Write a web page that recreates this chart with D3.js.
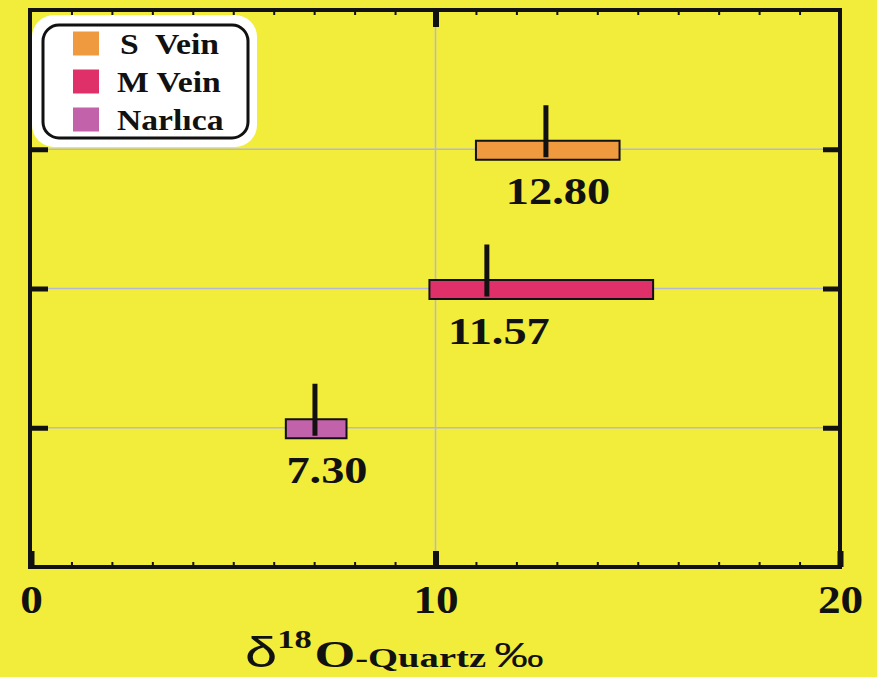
<!DOCTYPE html>
<html><head><meta charset="utf-8">
<script src="https://cdn.jsdelivr.net/npm/d3@7"></script>
<style>
html,body{margin:0;padding:0;background:#f2ec3a;}
svg{display:block;}
</style></head>
<body>
<svg id="chart" width="877" height="677"></svg>
<script>
// ---- data ----
const categories = ["S Vein", "M Vein", "Narlıca"];
const legendLabels = ["S  Vein", "M Vein", "Narlıca"];
const rangeLow = [11.0, 9.85, 6.3];
const rangeHigh = [14.55, 15.38, 7.8];
const markerValues = [12.73, 11.27, 7.02];
const valueLabels = ["12.80", "11.57", "7.30"];
const colors = ["#ef9a3e", "#e0306a", "#c262aa"];
const majorTicks = [0, 10, 20];
const minorTicks = d3.range(1, 20).filter(d => d !== 10);

// ---- layout ----
const svg = d3.select("#chart");
const L = 31, R = 840, T = 10, B = 567;
const x = d3.scaleLinear().domain([0, 20]).range([L, R]);
const y = d3.scalePoint().domain(categories).range([T, B]).padding(1);
const serif = "'Liberation Serif','Times New Roman',serif";
const sans = "'Liberation Sans','DejaVu Sans',sans-serif";
const SX = 1.16;

svg.append("rect").attr("width", 877).attr("height", 677).attr("fill", "#f2ec3a");

// gridlines
const grid = svg.append("g").attr("stroke", "#b3b7dc").attr("stroke-width", 1.5);
grid.selectAll("line.h").data(categories).join("line")
  .attr("x1", L).attr("x2", R).attr("y1", d => y(d)).attr("y2", d => y(d));
grid.append("line").attr("x1", x(10)).attr("x2", x(10)).attr("y1", T).attr("y2", B);

// bars
const rows = categories.map((c, i) => ({c, lo: rangeLow[i], hi: rangeHigh[i], m: markerValues[i], lab: valueLabels[i], col: colors[i]}));
const barH = 19;
svg.append("g").selectAll("rect").data(rows).join("rect")
  .attr("x", d => x(d.lo)).attr("width", d => x(d.hi) - x(d.lo))
  .attr("y", d => y(d.c) - barH / 2 + 1).attr("height", barH)
  .attr("fill", d => d.col).attr("stroke", "#111").attr("stroke-width", 2);

// marker lines
svg.append("g").selectAll("line").data(rows).join("line")
  .attr("x1", d => x(d.m)).attr("x2", d => x(d.m))
  .attr("y1", d => y(d.c) - 44).attr("y2", d => y(d.c) + 8)
  .attr("stroke", "#111").attr("stroke-width", 5);

// value labels
svg.append("g").selectAll("text").data(rows).join("text")
  .attr("transform", d => `translate(${x(d.m) + 12},${y(d.c) + 55}) scale(1.22,1)`)
  .attr("text-anchor", "middle")
  .attr("font-family", serif).attr("font-weight", "bold").attr("font-size", 38)
  .attr("fill", "#111").text(d => d.lab);

// axes ticks (bottom & top)
const minorB = d3.axisBottom(x).tickValues(minorTicks).tickSize(-5).tickFormat("");
const minorT = d3.axisTop(x).tickValues(minorTicks).tickSize(-5).tickFormat("");
const majorB = d3.axisBottom(x).tickValues(majorTicks).tickSize(-16).tickFormat(d3.format("d"));
const majorT = d3.axisTop(x).tickValues([10]).tickSize(-17).tickFormat("");
function styleAxis(g, w) {
  g.select(".domain").remove();
  g.selectAll(".tick line").attr("stroke", "#111").attr("stroke-width", w);
}
svg.append("g").attr("transform", `translate(0,${B})`).call(minorB).call(g => styleAxis(g, 2));
svg.append("g").attr("transform", `translate(0,${T})`).call(minorT).call(g => styleAxis(g, 2));
const mb = svg.append("g").attr("transform", `translate(0,${B})`).call(majorB).call(g => styleAxis(g, 6));
mb.selectAll(".tick text")
  .attr("y", 0).attr("dy", 0)
  .attr("transform", `translate(0,46) scale(${SX},1)`)
  .attr("font-family", serif).attr("font-weight", "bold").attr("font-size", 39).attr("fill", "#111");
svg.append("g").attr("transform", `translate(0,${T})`).call(majorT).call(g => styleAxis(g, 6));

// y ticks (left & right), no labels
const yl = d3.axisLeft(y).tickSize(-17).tickFormat("");
const yr = d3.axisRight(y).tickSize(-17).tickFormat("");
svg.append("g").attr("transform", `translate(${L},0)`).call(yl).call(g => styleAxis(g, 5));
svg.append("g").attr("transform", `translate(${R},0)`).call(yr).call(g => styleAxis(g, 5));

// frame
svg.append("rect").attr("x", L - 1).attr("y", T).attr("width", R - L + 1).attr("height", B - T)
  .attr("fill", "none").attr("stroke", "#111").attr("stroke-width", 4);

// legend
const lg = svg.append("g");
lg.append("rect").attr("x", 32).attr("y", 15).attr("width", 225).attr("height", 132).attr("rx", 22)
  .attr("fill", "#ffffff");
lg.append("rect").attr("x", 43).attr("y", 25).attr("width", 205).attr("height", 113).attr("rx", 16)
  .attr("fill", "#ffffff").attr("stroke", "#111").attr("stroke-width", 3);
const items = lg.selectAll("g.item").data(legendLabels).join("g")
  .attr("transform", (d, i) => `translate(0,${43.5 + i * 38})`);
items.append("rect").attr("x", 73).attr("y", -12).attr("width", 26).attr("height", 24)
  .attr("fill", (d, i) => colors[i]);
items.append("text")
  .attr("transform", (d, i) => `translate(${i === 0 ? 120 : 117},10) scale(${SX},1)`)
  .style("white-space", "pre")
  .attr("font-family", serif).attr("font-weight", "bold").attr("font-size", 29).attr("fill", "#111")
  .text(d => d);

// x axis title
const title = svg.append("text").attr("x", 0).attr("y", 0).attr("fill", "#111");
title.append("tspan").attr("font-family", sans).attr("font-size", 42).text("δ");
title.append("tspan").attr("font-family", serif).attr("font-weight", "bold").attr("font-size", 25).attr("dy", -19).text("18");
title.append("tspan").attr("font-family", serif).attr("font-weight", "bold").attr("font-size", 38).attr("dy", 19).attr("dx", 2).text("O");
title.append("tspan").attr("font-family", serif).attr("font-weight", "bold").attr("font-size", 28).text("-Quartz");
title.append("tspan").attr("font-family", sans).attr("font-size", 36).attr("dx", 6).text("‰");
const tw = title.node().getComputedTextLength();
title.attr("transform", `translate(245,667) scale(${288 / tw},1)`);
</script>
</body></html>
